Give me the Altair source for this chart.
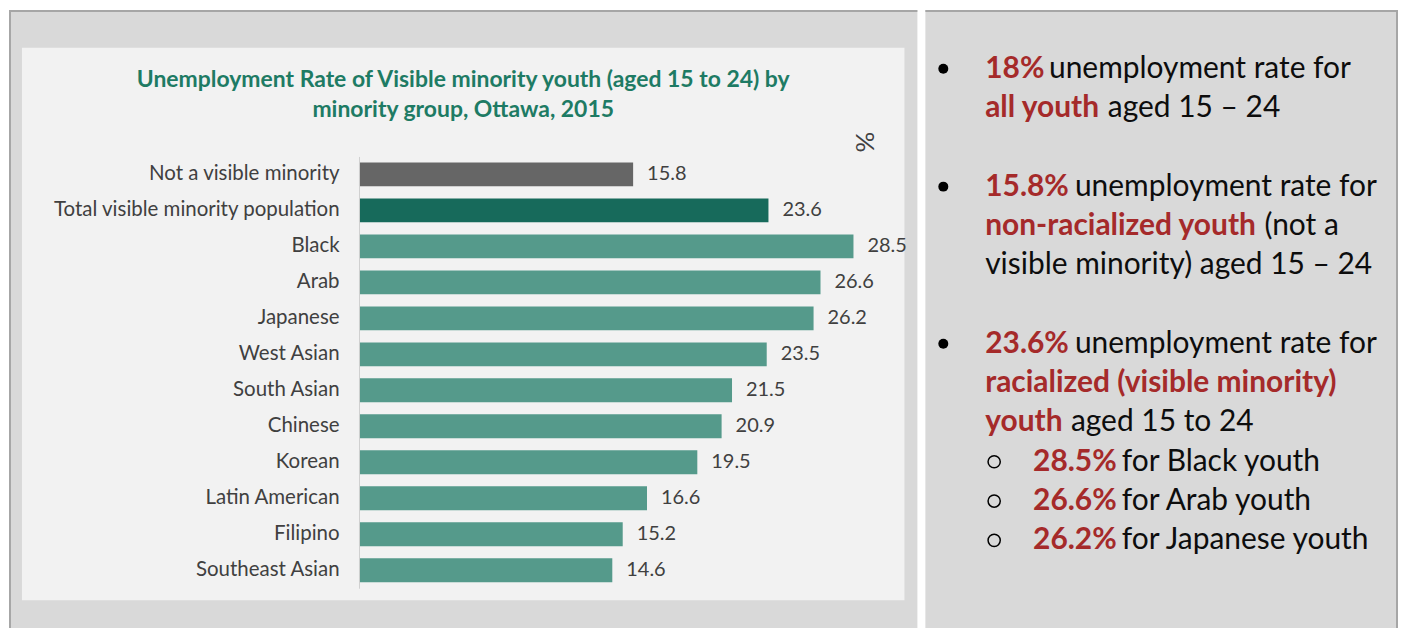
import altair as alt
import pandas as pd

FONT = "Lato"

# ---------------- data ----------------
groups = ["Not a visible minority", "Total visible minority population", "Black", "Arab",
          "Japanese", "West Asian", "South Asian", "Chinese", "Korean",
          "Latin American", "Filipino", "Southeast Asian"]
rates = [15.8, 23.6, 28.5, 26.6, 26.2, 23.5, 21.5, 20.9, 19.5, 16.6, 15.2, 14.6]
kinds = ["Not a visible minority", "Total visible minority", "Group", "Group", "Group",
         "Group", "Group", "Group", "Group", "Group", "Group", "Group"]
kind_names = ["Not a visible minority", "Total visible minority", "Group"]
kind_colors = ["#666666", "#176a5b", "#559a8b"]

title_lines = ["Unemployment Rate of Visible minority youth (aged 15 to 24)  by",
               "minority group, Ottawa, 2015"]

note_lines = [0, 1, 3, 4, 5, 7, 8, 9, 10, 11, 12]
note_red = ["18%", "all youth", "15.8%", "non-racialized youth", "", "23.6%",
            "racialized (visible minority)", "youth", "28.5%", "26.6%", "26.2%"]
note_black = ["unemployment rate for", "aged 15 \u2013 24", "unemployment rate for", "(not a",
              "visible minority) aged 15 \u2013 24", "unemployment rate for", "",
              "aged 15 to 24", "for Black youth", "for Arab youth", "for Japanese youth"]
note_bullet = ["main", "", "main", "", "", "main", "", "", "sub", "sub", "sub"]

# ---------------- layout (pixels inside the right panel) ----------------
red_x = [60, 60, 60, 60, 60, 60, 60, 60, 108, 108, 108]
black_x = [124, 183, 150, 340, 60, 150, 0, 146, 197, 197, 197]
bullet_x = [18, 0, 18, 0, 0, 18, 0, 0, 69, 69, 69]

LW, RW, H = 911, 474, 620

one = pd.DataFrame({"a": [0]})
bars_df = pd.DataFrame({"group": groups, "rate": rates, "kind": kinds})

# ---------------- left panel ----------------
panel_bg = alt.Chart(one).mark_rect(color="#f2f2f2").encode(
    x=alt.value(13), x2=alt.value(898), y=alt.value(38), y2=alt.value(592))
left_top = alt.Chart(one).mark_rule(color="#a6a6a6", strokeWidth=2).encode(
    x=alt.value(0), x2=alt.value(LW), y=alt.value(1))
left_side = alt.Chart(one).mark_rule(color="#a6a6a6", strokeWidth=2).encode(
    x=alt.value(1), y=alt.value(0), y2=alt.value(H))

x_enc = alt.X("rate:Q",
              scale=alt.Scale(domain=[0, 30], range=[351, 873], nice=False, zero=True),
              axis=alt.Axis(orient="top", labels=False, ticks=False, domain=False, grid=False,
                            title="%", titleAngle=90, titleX=857, titleY=132,
                            titleFont=FONT, titleFontSize=26, titleFontWeight="normal",
                            titleColor="#404040", titleAlign="center", titleBaseline="middle",
                            zindex=1))
y_enc = alt.Y("group:N", sort=groups,
              scale=alt.Scale(range=[147, 580], paddingInner=0.335, paddingOuter=0.166),
              axis=alt.Axis(offset=-351, labelPadding=20, ticks=False, domainColor="#d0d0d0",
                            domainWidth=1, labelFont=FONT, labelFontSize=20.5,
                            labelColor="#404040", labelLimit=500, title=None, grid=False,
                            zindex=1))

base = alt.Chart(bars_df)
bars = base.mark_bar().encode(
    x=x_enc, y=y_enc,
    color=alt.Color("kind:N", scale=alt.Scale(domain=kind_names, range=kind_colors), legend=None))
vals = base.mark_text(align="left", baseline="middle", dx=14, font=FONT, fontSize=20,
                      color="#404040").encode(
    x="rate:Q", y=alt.Y("group:N", sort=groups), text=alt.Text("rate:Q", format=".1f"))

left = alt.layer(panel_bg, left_top, left_side, bars, vals).properties(
    width=LW, height=H,
    title=alt.TitleParams(text=title_lines, font=FONT, fontSize=23, fontWeight="bold",
                          color="#1e7b64", anchor="middle", baseline="top",
                          offset=-113, lineHeight=30))

# ---------------- right panel ----------------
notes_df = pd.DataFrame({"line": note_lines, "red": note_red, "black": note_black,
                         "bullet": note_bullet, "rx": red_x, "bx": black_x, "ux": bullet_x})
xs = alt.Scale(domain=[0, RW], range=[0, RW])
ys = alt.Scale(domain=[0, 12], range=[59, 532])
nb = alt.Chart(notes_df)

red_txt = nb.transform_filter("datum.red != ''").mark_text(
    align="left", baseline="middle", font=FONT, fontSize=30, fontWeight="bold",
    color="#a52a2a").encode(
    x=alt.X("rx:Q", scale=xs, axis=None), y=alt.Y("line:Q", scale=ys, axis=None), text="red:N")
blk_txt = nb.transform_filter("datum.black != ''").mark_text(
    align="left", baseline="middle", font=FONT, fontSize=30, color="#0d0d0d").encode(
    x=alt.X("bx:Q", scale=xs, axis=None), y=alt.Y("line:Q", scale=ys, axis=None), text="black:N")
dots = nb.transform_filter("datum.bullet == 'main'").mark_circle(
    size=100, color="#000000", opacity=1).encode(
    x=alt.X("ux:Q", scale=xs, axis=None), y=alt.Y("line:Q", scale=ys, axis=None))
rings = nb.transform_filter("datum.bullet == 'sub'").mark_point(
    shape="circle", filled=False, size=150, strokeWidth=1.5, color="#000000", opacity=1).encode(
    x=alt.X("ux:Q", scale=xs, axis=None), y=alt.Y("line:Q", scale=ys, axis=None))
right_top = alt.Chart(one).mark_rule(color="#a6a6a6", strokeWidth=2).encode(
    x=alt.value(0), x2=alt.value(RW), y=alt.value(1))
right_side = alt.Chart(one).mark_rule(color="#a6a6a6", strokeWidth=2).encode(
    x=alt.value(RW - 1), y=alt.value(0), y2=alt.value(H))

right = alt.layer(right_top, right_side, dots, rings, red_txt, blk_txt).properties(
    width=RW, height=H)

chart = alt.hconcat(left, right, spacing=6).properties(
    padding=0, background="#ffffff"
).configure_view(fill="#d9d9d9", stroke=None)

chart.save("out.html", embed_options={"renderer": "svg", "actions": False})
